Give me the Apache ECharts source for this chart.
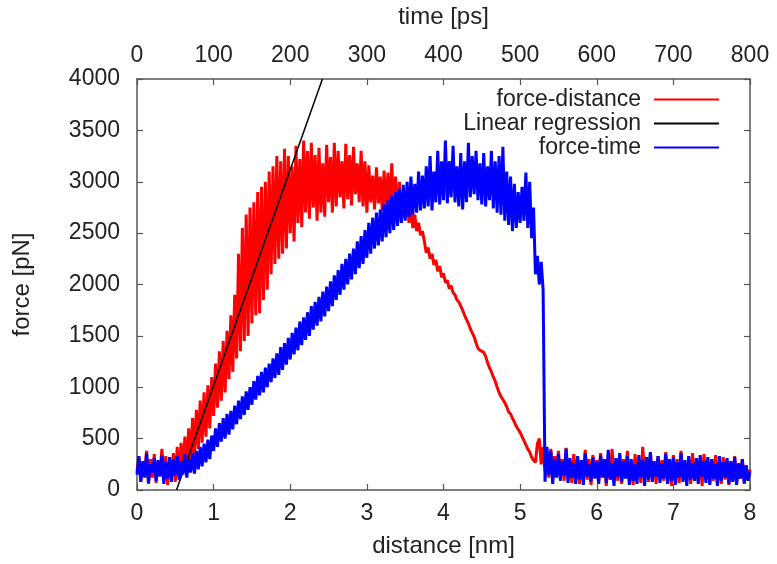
<!DOCTYPE html>
<html><head><meta charset="utf-8">
<script src="https://cdn.jsdelivr.net/npm/echarts@6/dist/echarts.min.js"></script>
<style>html,body{margin:0;padding:0;background:#fff}#c{width:777px;height:564px}</style>
</head><body><div id="c"></div>
<script>
// ---- data ----
const distanceTicks = [0, 1, 2, 3, 4, 5, 6, 7, 8];          // nm
const timeTicks = [0, 100, 200, 300, 400, 500, 600, 700, 800]; // ps
const forceTicks = [0, 500, 1000, 1500, 2000, 2500, 3000, 3500, 4000]; // pN

// force-distance samples, one every 0.025 nm starting at 0 nm
const redStepNm = 0.025;
const redForce = [
  180, 320, 90, 260, 140, 380, 60, 300, 120, 350,
  70, 280, 160, 400, 90, 330, 50, 270, 150, 360,
  80, 420, 120, 460, 170, 520, 200, 600, 250, 700,
  330, 780, 400, 870, 460, 950, 520, 1020, 600, 1100,
  720, 1230, 800, 1350, 870, 1450, 950, 1550, 1080, 1700,
  1150, 1900, 1280, 2300, 1350, 2550, 1450, 2680, 1500, 2750,
  1620, 2800, 1700, 2900, 1720, 2950, 1850, 3000, 1950, 3100,
  2100, 3150, 2200, 3250, 2250, 3200, 2300, 3320, 2350, 3250,
  2500, 3150, 2420, 3350, 2600, 3220, 2560, 3400, 2700, 3300,
  2640, 3380, 2750, 3260, 2620, 3330, 2700, 3180, 2660, 3360,
  2800, 3240, 2700, 3380, 2760, 3300, 2850, 3200, 2740, 3370,
  2830, 3260, 2770, 3340, 2880, 3180, 2800, 3300, 2760, 3200,
  2700, 3160, 2800, 3060, 2730, 3140, 2790, 3050, 2720, 3110,
  2720, 3090, 2700, 3180, 2680, 3050, 2620, 3000, 2600, 2900,
  2650, 2820, 2600, 2750, 2550, 2680, 2520, 2600, 2480, 2520,
  2420, 2310, 2360, 2250, 2300, 2190, 2240, 2130, 2180, 2070,
  2110, 2020, 2040, 1960, 1990, 1920, 1900, 1850, 1830, 1790,
  1750, 1700, 1660, 1620, 1570, 1530, 1490, 1430, 1380, 1360,
  1350, 1340, 1300, 1240, 1190, 1150, 1100, 1060, 1000, 950,
  910, 880, 850, 810, 760, 740, 700, 660, 620, 590,
  560, 520, 480, 440, 400, 370, 320, 290, 270, 450,
  500, 250, 420, 180, 350, 120, 400, 200, 330, 150,
  380, 130, 300, 90, 410, 160, 280, 70, 350, 120,
  320, 60, 260, 140, 390, 100, 300, 50, 340, 170,
  290, 80, 360, 150, 250, 40, 330, 110, 400, 140,
  270, 90, 340, 60, 300, 170, 380, 100, 260, 50,
  350, 120, 280, 70, 420, 150, 310, 80, 360, 110,
  250, 60, 330, 140, 290, 90, 370, 120, 270, 40,
  340, 100, 300, 70, 380, 150, 260, 90, 320, 60,
  360, 130, 280, 80, 310, 40, 350, 110, 270, 70,
  300, 90, 340, 150, 260, 60, 320, 100, 290, 50,
  270, 110, 330, 70, 250, 130, 300, 60, 240, 90,
  200
];

// force-time samples, one every 2.5 ps starting at 0 ps
const blueStepPs = 2.5;
const blueForce = [
  150, 330, 80, 280, 120, 360, 70, 250, 170, 310,
  90, 290, 130, 340, 60, 270, 110, 320, 80, 300,
  140, 330, 100, 280, 150, 350, 120, 300, 170, 360,
  160, 380, 200, 420, 230, 450, 270, 490, 300, 530,
  380, 600, 420, 650, 470, 700, 500, 740, 540, 770,
  590, 820, 640, 870, 690, 910, 730, 960, 780, 1000,
  830, 1060, 880, 1110, 920, 1150, 950, 1190, 1000, 1230,
  1050, 1280, 1090, 1330, 1120, 1390, 1170, 1430, 1220, 1480,
  1270, 1530, 1320, 1580, 1360, 1640, 1410, 1680, 1460, 1730,
  1500, 1790, 1560, 1830, 1600, 1880, 1640, 1930, 1690, 1980,
  1740, 2030, 1790, 2090, 1850, 2140, 1900, 2200, 1950, 2250,
  2000, 2300, 2050, 2350, 2100, 2420, 2160, 2470, 2200, 2530,
  2260, 2600, 2300, 2650, 2350, 2700, 2380, 2730, 2420, 2780,
  2460, 2820, 2500, 2860, 2530, 2900, 2570, 2930, 2600, 2970,
  2620, 3000, 2660, 3050, 2680, 2980, 2700, 3100, 2720, 3060,
  2740, 3150, 2760, 3250, 2720, 3100, 2800, 3300, 2780, 3200,
  2820, 3400, 2790, 3200, 2850, 3350, 2800, 3150, 2760, 3280,
  2730, 3200, 2800, 3380, 2850, 3250, 2880, 3300, 2820, 3180,
  2780, 3280, 2760, 3150, 2820, 3300, 2740, 3200, 2700, 3250,
  2680, 3340, 2620, 3100, 2580, 3050, 2520, 2980, 2550, 2900,
  2600, 2950, 2620, 3090, 2550, 3000, 2450, 2750, 2100, 2280,
  2000, 2220, 1950, 80, 420, 150, 380, 60, 300, 120,
  350, 90, 280, 140, 400, 70, 310, 120, 260, 60,
  330, 100, 290, 50, 360, 130, 250, 80, 320, 110,
  270, 60, 340, 120, 300, 70, 390, 100, 260, 40,
  310, 130, 360, 80, 280, 110, 330, 50, 300, 90,
  250, 60, 340, 120, 290, 40, 320, 100, 370, 80,
  280, 130, 330, 70, 260, 110, 350, 60, 300, 90,
  320, 50, 270, 120, 360, 80, 290, 40, 330, 100,
  260, 90, 310, 60, 340, 130, 280, 70, 320, 50,
  300, 110, 250, 40, 330, 90, 270, 120, 310, 60,
  280, 80, 320, 50, 260, 110, 300, 70, 240, 90,
  180
];

// linear regression end points (distance nm, force pN)
const regressionDistance = [0.516, 2.42];
const regressionForce = [0, 4000];

// ---- chart ----
const FONT = 'Liberation Sans, Arial, sans-serif';
const TXT = '#222';
const AX = '#555';

const redData = redForce.map((f, i) => [+(i * redStepNm).toFixed(3), f]);
const blueData = blueForce.map((f, i) => [+(i * blueStepPs).toFixed(2), f]);
const regData = regressionDistance.map((d, i) => [d, regressionForce[i]]);

function axisCommon() {
  return {
    axisLine: { show: true, onZero: false, lineStyle: { color: AX, width: 1.5 } },
    axisTick: { show: true, inside: true, length: 6, lineStyle: { color: AX, width: 1.2 } },
    splitLine: { show: false },
    nameTextStyle: { fontFamily: FONT, fontSize: 24, color: TXT },
  };
}
const plain = v => String(v);

const chart = echarts.init(document.getElementById('c'), null, { renderer: 'canvas' });
chart.setOption({
  animation: false,
  backgroundColor: '#fff',
  textStyle: { fontFamily: FONT },
  grid: { left: 137, right: 27, top: 79, bottom: 74 },
  legend: {
    orient: 'vertical',
    right: 53,
    top: 83,
    align: 'right',
    itemWidth: 65,
    itemHeight: 2,
    itemGap: 1,
    icon: 'rect',
    textStyle: { fontFamily: FONT, fontSize: 23, color: TXT, padding: [0, 8, 0, 0] },
    data: ['force-distance', 'Linear regression', 'force-time']
  },
  xAxis: [
    Object.assign(axisCommon(), {
      type: 'value', position: 'bottom', min: distanceTicks[0], max: distanceTicks[distanceTicks.length - 1], interval: 1,
      name: 'distance [nm]', nameLocation: 'middle', nameGap: 44,
      axisLabel: { margin: 12, fontFamily: FONT, fontSize: 23, color: TXT, formatter: plain }
    }),
    Object.assign(axisCommon(), {
      type: 'value', position: 'top', min: timeTicks[0], max: timeTicks[timeTicks.length - 1], interval: 100,
      name: 'time [ps]', nameLocation: 'middle', nameGap: 50,
      axisLabel: { margin: 12, fontFamily: FONT, fontSize: 23, color: TXT, formatter: plain }
    })
  ],
  yAxis: [
    Object.assign(axisCommon(), {
      type: 'value', position: 'left', min: forceTicks[0], max: forceTicks[forceTicks.length - 1], interval: 500,
      name: 'force [pN]', nameLocation: 'middle', nameGap: 103,
      axisLabel: { margin: 17, fontFamily: FONT, fontSize: 23, color: TXT, formatter: plain }
    }),
    Object.assign(axisCommon(), {
      type: 'value', position: 'right', min: forceTicks[0], max: forceTicks[forceTicks.length - 1], interval: 500,
      axisLabel: { show: false }
    })
  ],
  series: [
    {
      name: 'force-distance', type: 'line', xAxisIndex: 0, yAxisIndex: 0,
      data: redData, showSymbol: false, symbol: 'none', clip: true,
      lineStyle: { color: '#ff0000', width: 3, join: 'miter', miterLimit: 1 }, itemStyle: { color: '#ff0000' }, z: 2
    },
    {
      name: 'Linear regression', type: 'line', xAxisIndex: 0, yAxisIndex: 0,
      data: regData, showSymbol: false, symbol: 'none', clip: true,
      lineStyle: { color: '#000000', width: 1.5 }, itemStyle: { color: '#000000' }, z: 3
    },
    {
      name: 'force-time', type: 'line', xAxisIndex: 1, yAxisIndex: 0,
      data: blueData, showSymbol: false, symbol: 'none', clip: true,
      lineStyle: { color: '#0000ff', width: 3, join: 'miter', miterLimit: 1 }, itemStyle: { color: '#0000ff' }, z: 4
    }
  ]
});
</script>
</body></html>
